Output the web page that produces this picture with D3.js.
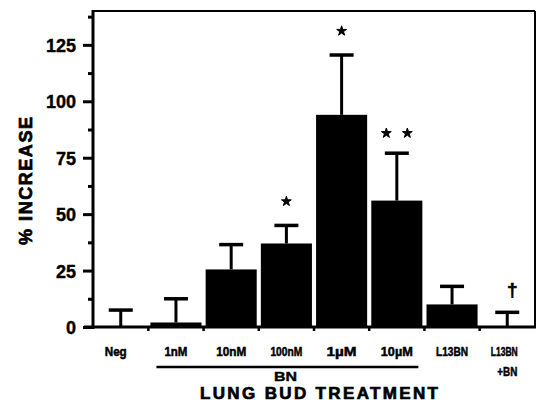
<!DOCTYPE html>
<html>
<head>
<meta charset="utf-8">
<script src="https://cdn.jsdelivr.net/npm/d3@7/dist/d3.min.js"></script>
<style>
  body { margin: 0; background: #fff; }
  svg text { font-family: "Liberation Sans", Arial, sans-serif; font-weight: bold; fill: #000; }
</style>
</head>
<body>
<div id="chart"></div>
<script>
const categories = ["Neg", "1nM", "10nM", "100nM", "1\u00b5M", "10\u00b5M", "L13BN", "L13BN+BN"];
const labelLines = [["Neg"], ["1nM"], ["10nM"], ["100nM"], ["1\u00b5M"], ["10\u00b5M"], ["L13BN"], ["L13BN", "+BN"]];
const means = [0, 2, 25.5, 37, 94, 56, 10, 0];
const errors = [7.5, 10.5, 11, 8, 26.5, 21, 8, 6.5];
const marks = ["", "", "", "*", "*", "* *", "", "\u2020"];
const yTicks = [0, 25, 50, 75, 100, 125];
const yMinorTicks = [12.5, 37.5, 62.5, 87.5, 112.5, 137.5];
const groupStart = "1nM", groupEnd = "10\u00b5M", groupLabel = "BN";
const xTitle = "LUNG BUD TREATMENT", yTitle = "% INCREASE";

const width = 543, height = 408;
const margin = { top: 11, right: 8, bottom: 81, left: 93 };

const svg = d3.select("#chart").append("svg")
  .attr("width", width).attr("height", height);

const x = d3.scaleBand().domain(categories)
  .range([margin.left, width - margin.right])
  .paddingInner(0.075).paddingOuter(0.04);
const y = d3.scaleLinear().domain([0, 140]).range([height - margin.bottom, margin.top]);

const step = x.step();
const plotL = margin.left, plotR = width - margin.right;
const plotT = margin.top, plotB = height - margin.bottom;

// bars
svg.selectAll("rect.bar").data(categories).enter().append("rect")
  .attr("x", d => x(d)).attr("width", x.bandwidth())
  .attr("y", (d, i) => y(means[i]))
  .attr("height", (d, i) => y(0) - y(means[i]))
  .attr("fill", "#000");

// error bars
const eb = svg.selectAll("g.err").data(categories).enter().append("g");
eb.append("line")
  .attr("x1", d => x(d) + x.bandwidth() / 2).attr("x2", d => x(d) + x.bandwidth() / 2)
  .attr("y1", (d, i) => y(means[i])).attr("y2", (d, i) => y(means[i] + errors[i]))
  .attr("stroke", "#000").attr("stroke-width", 3);
eb.append("line")
  .attr("x1", d => x(d) + x.bandwidth() / 2 - 12).attr("x2", d => x(d) + x.bandwidth() / 2 + 12)
  .attr("y1", (d, i) => y(means[i] + errors[i])).attr("y2", (d, i) => y(means[i] + errors[i]))
  .attr("stroke", "#000").attr("stroke-width", 3.5);

// significance marks
const star = d3.symbol().type(d3.symbolStar).size(30);
categories.forEach((c, i) => {
  const m = marks[i];
  if (!m) return;
  const cx = x(c) + x.bandwidth() / 2;
  const cy = y(means[i] + errors[i]) - 24;
  if (m === "*") {
    svg.append("path").attr("d", star).attr("transform", `translate(${cx},${cy})`)
      .attr("fill", "#000").attr("stroke", "#000").attr("stroke-width", 1).attr("stroke-linejoin", "round");
  } else if (m === "* *") {
    [-10.5, 10.5].forEach(dx =>
      svg.append("path").attr("d", star).attr("transform", `translate(${cx + dx},${cy + 4})`)
        .attr("fill", "#000").attr("stroke", "#000").attr("stroke-width", 1).attr("stroke-linejoin", "round"));
  } else {
    svg.append("text").attr("x", cx + 5).attr("y", cy + 8)
      .attr("text-anchor", "middle").style("font-size", "19px")
      .attr("stroke", "#000").attr("stroke-width", 0.6).text(m);
  }
});

// frame
svg.append("line").attr("x1", plotL).attr("x2", plotR).attr("y1", plotT).attr("y2", plotT)
  .attr("stroke", "#000").attr("stroke-width", 2);
svg.append("line").attr("x1", plotR).attr("x2", plotR).attr("y1", plotT).attr("y2", plotB)
  .attr("stroke", "#000").attr("stroke-width", 2);
svg.append("line").attr("x1", plotL).attr("x2", plotL).attr("y1", plotT - 1).attr("y2", plotB + 2)
  .attr("stroke", "#000").attr("stroke-width", 3);
svg.append("line").attr("x1", plotL - 9).attr("x2", plotR + 1).attr("y1", plotB).attr("y2", plotB)
  .attr("stroke", "#000").attr("stroke-width", 3);

// y axis
const yAxis = d3.axisLeft(y).tickValues(yTicks).tickSize(10).tickPadding(7).tickFormat(d3.format("d"));
const gy = svg.append("g").attr("transform", `translate(${plotL},0)`).call(yAxis);
gy.select(".domain").remove();
gy.selectAll(".tick line").attr("stroke-width", 3);
gy.selectAll(".tick text").style("font-size", "18px").style("font-family", "Liberation Sans, Arial, sans-serif")
  .style("font-weight", "bold").attr("dy", "0.36em")
  .attr("stroke", "#000").attr("stroke-width", 0.4);
const gyMinor = svg.append("g").attr("transform", `translate(${plotL},0)`)
  .call(d3.axisLeft(y).tickValues(yMinorTicks).tickSize(5).tickFormat(""));
gyMinor.select(".domain").remove();
gyMinor.selectAll(".tick line").attr("stroke-width", 3);

// x boundary ticks
const bounds = categories.map(c => x(c) - step * x.paddingInner() / 2).slice(1);
svg.selectAll("line.xt").data(bounds).enter().append("line")
  .attr("x1", d => d).attr("x2", d => d).attr("y1", plotB).attr("y2", plotB + 4)
  .attr("stroke", "#000").attr("stroke-width", 2.5);

// x labels
const narrow = "'Liberation Sans Narrow', 'Liberation Sans', Arial, sans-serif";
const labelWidths = [22, 23, 30, 32, 30, 32, 32, 27];
const labelShift = [-5, 0, 0, 0, 0, 0, 0, -3];
const lg = svg.selectAll("g.xl").data(categories).enter().append("g");
lg.each(function (c, i) {
  const g = d3.select(this);
  labelLines[i].forEach((t, k) => {
    const w = k === 0 ? labelWidths[i] : 20;
    g.append("text")
      .attr("x", x(c) + x.bandwidth() / 2 + (k === 1 ? 0 : labelShift[i]))
      .attr("y", plotB + 29 + k * 20)
      .attr("text-anchor", "middle")
      .attr("textLength", w).attr("lengthAdjust", "spacingAndGlyphs")
      .attr("stroke", "#000").attr("stroke-width", 0.5)
      .style("font-family", narrow).style("font-size", "12.5px")
      .text(t);
  });
});

// group line and label
const gx1 = x(groupStart) + 6, gx2 = x(groupEnd) + x.bandwidth() - 4;
svg.append("line").attr("x1", gx1).attr("x2", gx2).attr("y1", plotB + 40).attr("y2", plotB + 40)
  .attr("stroke", "#000").attr("stroke-width", 2.5);
svg.append("text").attr("x", (gx1 + gx2) / 2 - 2).attr("y", plotB + 54)
  .attr("text-anchor", "middle").style("font-size", "12.5px")
  .attr("stroke", "#000").attr("stroke-width", 0.4)
  .attr("textLength", 23).attr("lengthAdjust", "spacingAndGlyphs").text(groupLabel);

// axis titles
svg.append("text").attr("x", 319).attr("y", plotB + 72)
  .attr("text-anchor", "middle").style("font-size", "17px")
  .attr("stroke", "#000").attr("stroke-width", 0.7)
  .attr("textLength", 238).attr("lengthAdjust", "spacing").text(xTitle);
svg.append("text").attr("transform", `translate(32,181) rotate(-90)`)
  .attr("text-anchor", "middle").style("font-size", "18px")
  .attr("stroke", "#000").attr("stroke-width", 0.7)
  .attr("textLength", 128).attr("lengthAdjust", "spacing").text(yTitle);
</script>
</body>
</html>
